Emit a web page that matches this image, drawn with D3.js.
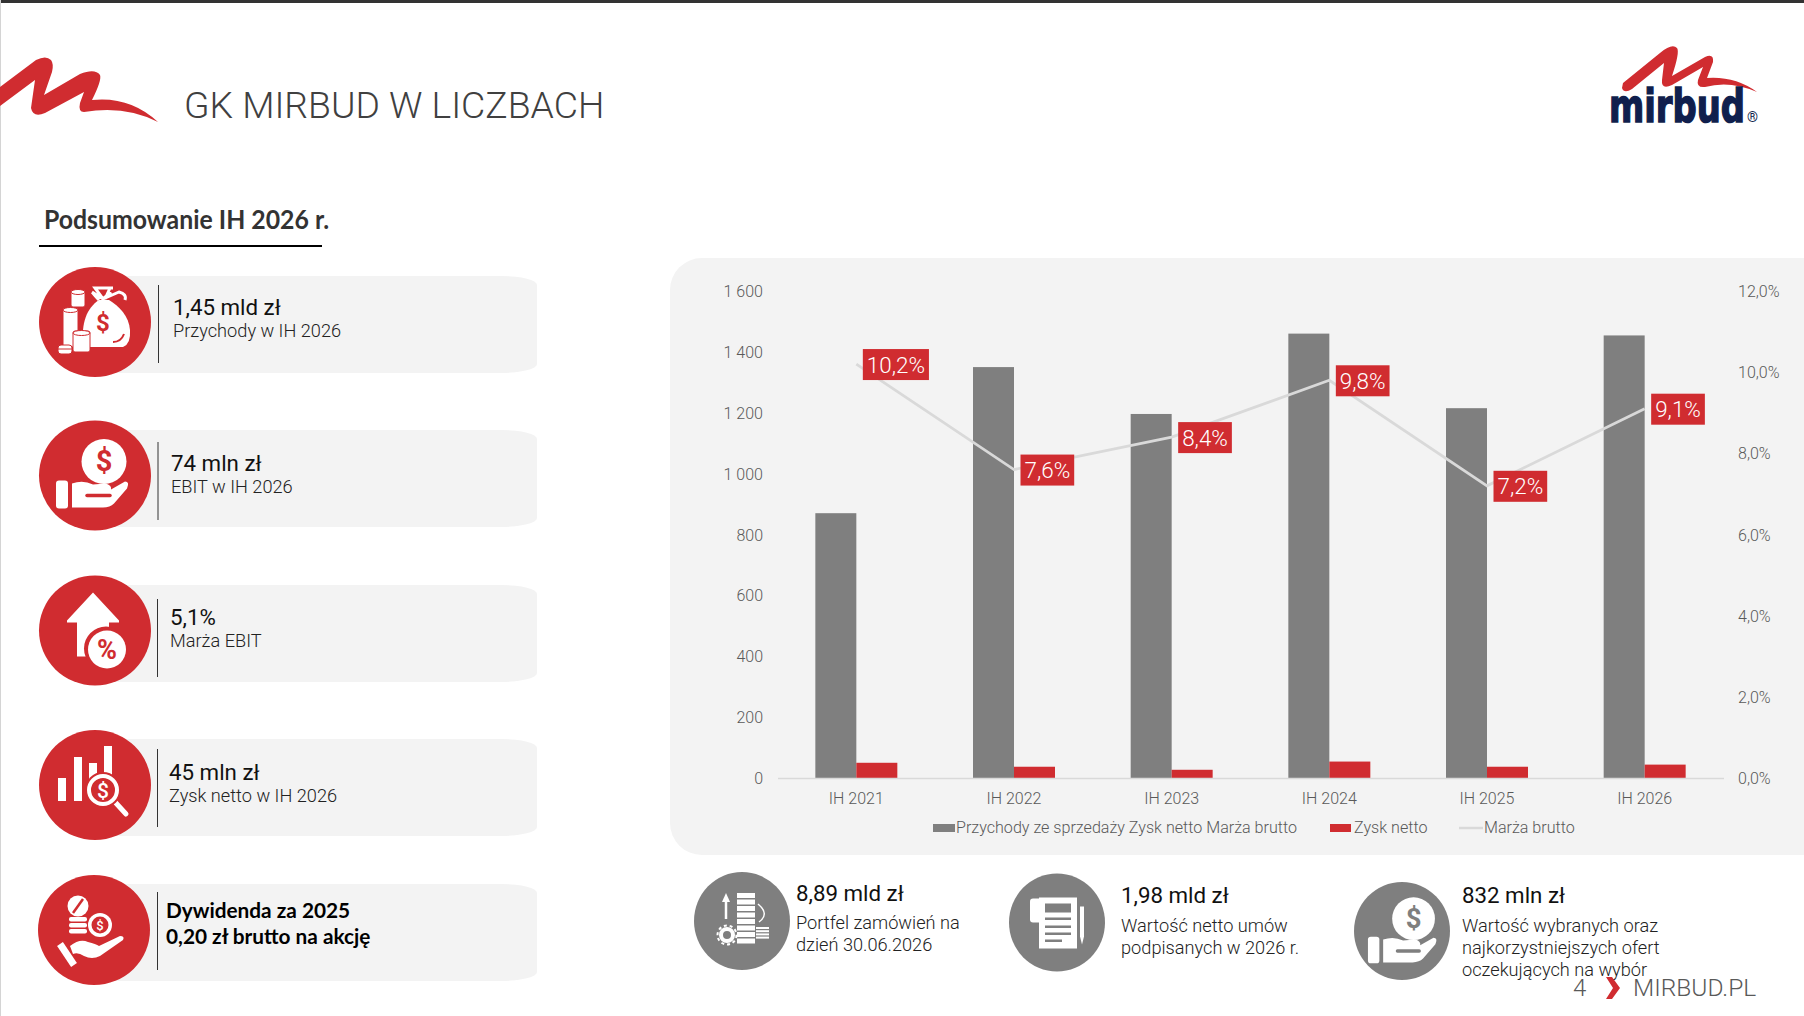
<!DOCTYPE html>
<html lang="pl">
<head>
<meta charset="utf-8">
<title>GK MIRBUD W LICZBACH</title>
<script src="https://cdn.jsdelivr.net/npm/d3@7"></script>
<style>
	html, body { margin: 0; padding: 0; background: #fff; }
	svg { display: block; font-family: Roboto, sans-serif; }
	.light { font-weight: 300; }
</style>
</head>
<body>
<svg id="slide" width="1804" height="1016"></svg>
<script>
(function () {
	'use strict';

	// --- Chart data ---
	var categories   = ['IH 2021', 'IH 2022', 'IH 2023', 'IH 2024', 'IH 2025', 'IH 2026'];
	var revenue      = [870, 1350, 1196, 1460, 1215, 1454];
	var netProfit    = [50, 37, 27, 54, 37, 44];
	var grossMargin  = [10.2, 7.6, 8.4, 9.8, 7.2, 9.1];
	var leftTicks    = [0, 200, 400, 600, 800, 1000, 1200, 1400, 1600];
	var rightTicks   = [0, 2, 4, 6, 8, 10, 12];
	var legendLabels = ['Przychody ze sprzedaży Zysk netto Marża brutto', 'Zysk netto', 'Marża brutto'];

	// --- Slide texts ---
	var kpiValues    = ['1,45 mld zł', '74 mln zł', '5,1%', '45 mln zł'];
	var kpiLabels    = ['Przychody w IH 2026', 'EBIT w IH 2026', 'Marża EBIT', 'Zysk netto w IH 2026'];
	var dividend     = ['Dywidenda za 2025', '0,20 zł brutto na akcję'];
	var bottomValues = ['8,89 mld zł', '1,98 mld zł', '832 mln zł'];
	var bottomLines  = [
		['Portfel zamówień na', 'dzień 30.06.2026'],
		['Wartość netto umów', 'podpisanych w 2026 r.'],
		['Wartość wybranych oraz', 'najkorzystniejszych ofert', 'oczekujących na wybór']
	];

	// --- Colours ---
	var RED   = '#d02c30';
	var GREY  = '#7f7f7f';
	var PANEL = '#f3f3f3';
	var NAVY  = '#101f4d';

	var svg = d3.select('#slide');

	// page frame
	svg.append('rect').attr('width', 1804).attr('height', 3).attr('fill', '#333');
	svg.append('rect').attr('width', 1).attr('height', 1016).attr('fill', '#d4d4d4');

	// --- Header ---
	svg.append('path').attr('fill', RED)
		.attr('d', 'M0,87 L36,60 Q46,55 51,60 Q54,64 52,72 L44,95 L80,74 Q95,68 100,75 Q102,80 92,100 '
			+ 'Q130,96 158,122 Q125,105 84,112 Q78,112 80,103 L84,92 L45,113 Q33,118 31,108 L35,80 L0,106 Z');

	svg.append('text').attr('class', 'light')
		.attr('x', 184).attr('y', 118)
		.attr('font-size', 37.3).attr('fill', '#404040')
		.text('GK MIRBUD W LICZBACH');

	// right logo
	var logo = svg.append('g');
	logo.append('path').attr('fill', RED)
		.attr('d', 'M1623,83 L1660,53 Q1672,43 1677,48 Q1680,52 1672,76 L1705,57 Q1714,53 1713,62 L1707,78 '
			+ 'Q1735,76 1757,92 Q1730,80 1705,87 Q1696,88 1698,80 L1703,67 L1672,85 Q1661,90 1662,80 L1664,63 '
			+ 'L1632,89 Q1624,94 1622,88 Z');
	// wordmark squeezed with a transform so its box stays honest
	logo.append('text')
		.attr('transform', 'translate(1609,122) scale(0.72,1)')
		.attr('font-family', '"DejaVu Sans"').attr('font-weight', 700)
		.attr('font-size', 47).attr('fill', NAVY)
		.attr('stroke', NAVY).attr('stroke-width', 1.6)
		.text('mirbud');
	logo.append('text')
		.attr('x', 1747).attr('y', 122)
		.attr('font-size', 14).attr('fill', NAVY)
		.text('®');

	// --- Section heading ---
	svg.append('text')
		.attr('transform', 'translate(44,229) scale(0.955,1)')
		.attr('font-family', 'Lato').attr('font-weight', 700)
		.attr('font-size', 26).attr('fill', '#333')
		.text('Podsumowanie IH 2026 r.');
	svg.append('rect').attr('x', 39).attr('y', 245).attr('width', 283).attr('height', 2).attr('fill', '#000');

	// --- Left column cards ---
	var CARD_ROWS = [
		{ cy: 322,   cx: 95, cardTop: 276, divTop: 285, divX: 158.5, textX: 173, base: 315, sub: 337 },
		{ cy: 475.5, cx: 95, cardTop: 430, divTop: 442, divX: 158,   textX: 171, base: 471, sub: 493 },
		{ cy: 630.5, cx: 95, cardTop: 585, divTop: 599, divX: 157.5, textX: 170, base: 625, sub: 647 },
		{ cy: 785,   cx: 95, cardTop: 739, divTop: 749, divX: 157.5, textX: 169, base: 780, sub: 802 },
		{ cy: 930,   cx: 94, cardTop: 884, divTop: 892, divX: 157.5, textX: 166, base: 918, sub: 944 }
	];

	function cardPath(top) {
		var x0 = 90, x1 = 537, h = 97, rx = 35, ry = 9;
		return 'M' + x0 + ',' + top + ' H' + (x1 - rx)
			+ ' A' + rx + ',' + ry + ' 0 0 1 ' + x1 + ',' + (top + ry)
			+ ' V' + (top + h - ry)
			+ ' A' + rx + ',' + ry + ' 0 0 1 ' + (x1 - rx) + ',' + (top + h)
			+ ' H' + x0 + ' Z';
	}

	var ICONS = [iconMoneyBag, function (g) { iconHandCoin(g, RED, 1); }, iconArrowPercent, iconBarsLens, iconCoinsHand];

	CARD_ROWS.forEach(function (row, i) {
		svg.append('path').attr('d', cardPath(row.cardTop)).attr('fill', PANEL);
		svg.append('ellipse')
			.attr('cx', row.cx).attr('cy', row.cy)
			.attr('rx', 56).attr('ry', 55)
			.attr('fill', RED);
		svg.append('line')
			.attr('x1', row.divX).attr('x2', row.divX)
			.attr('y1', row.divTop).attr('y2', row.divTop + 78)
			.attr('stroke', '#333').attr('stroke-width', 1);

		var g = svg.append('g').attr('transform', 'translate(' + row.cx + ',' + row.cy + ')');
		ICONS[i](g);

		if (i < kpiValues.length) {
			svg.append('text')
				.attr('x', row.textX).attr('y', row.base)
				.attr('font-size', 22.3).attr('fill', '#111')
				.text(kpiValues[i]);
			svg.append('text').attr('class', 'light')
				.attr('x', row.textX).attr('y', row.sub)
				.attr('font-size', 18.2).attr('fill', '#222')
				.text(kpiLabels[i]);
		} else {
			dividend.forEach(function (line, k) {
				svg.append('text')
					.attr('x', row.textX).attr('y', k === 0 ? row.base : row.sub)
					.attr('font-family', 'Lato').attr('font-weight', 700)
					.attr('font-size', 20.8).attr('fill', '#000')
					.text(line);
			});
		}
	});

	// --- Chart panel ---
	svg.append('path').attr('fill', PANEL)
		.attr('d', 'M1804,258 H702 A32,32 0 0 0 670,290 V823 A32,32 0 0 0 702,855 H1804 Z');

	var PLOT = { left: 777.5, right: 1723.5, top: 291, bottom: 778 };

	var x = d3.scaleBand()
		.domain(categories)
		.range([PLOT.left, PLOT.right])
		.paddingInner(0.48)
		.paddingOuter(0.24);
	var xSeries = d3.scaleBand()
		.domain(['revenue', 'profit'])
		.range([0, x.bandwidth()]);
	var yLeft = d3.scaleLinear().domain([0, 1600]).range([PLOT.bottom, PLOT.top]);
	var yRight = d3.scaleLinear().domain([0, 12]).range([PLOT.bottom, PLOT.top]);

	var plLocale = d3.formatLocale({ decimal: ',', thousands: ' ', grouping: [3], currency: ['', ''] });
	var fmtThousands = plLocale.format(',d');
	var fmtPercent = plLocale.format('.1f');

	function styleTicks(g) {
		g.selectAll('.tick text')
			.attr('class', 'light')
			.attr('font-family', 'Roboto')
			.attr('font-size', 16)
			.attr('fill', '#595959');
	}

	function cleanAxis(g) {
		g.select('.domain').remove();
		g.selectAll('.tick line').remove();
		g.selectAll('.tick text').attr('dy', '0.35em');
		styleTicks(g);
	}

	svg.append('g')
		.attr('transform', 'translate(763,0)')
		.call(d3.axisLeft(yLeft).tickValues(leftTicks).tickSize(0).tickPadding(0).tickFormat(fmtThousands))
		.call(cleanAxis);

	svg.append('g')
		.attr('transform', 'translate(1738,0)')
		.call(d3.axisRight(yRight).tickValues(rightTicks).tickSize(0).tickPadding(0)
			.tickFormat(function (d) { return fmtPercent(d) + '%'; }))
		.call(cleanAxis);

	svg.append('g').selectAll('rect')
		.data(revenue)
		.enter().append('rect')
		.attr('x', function (d, i) { return x(categories[i]) + xSeries('revenue'); })
		.attr('y', function (d) { return yLeft(d); })
		.attr('width', xSeries.bandwidth())
		.attr('height', function (d) { return yLeft(0) - yLeft(d); })
		.attr('fill', GREY);

	svg.append('g').selectAll('rect')
		.data(netProfit)
		.enter().append('rect')
		.attr('x', function (d, i) { return x(categories[i]) + xSeries('profit'); })
		.attr('y', function (d) { return yLeft(d); })
		.attr('width', xSeries.bandwidth())
		.attr('height', function (d) { return yLeft(0) - yLeft(d); })
		.attr('fill', RED);

	svg.append('g')
		.attr('transform', 'translate(0,' + PLOT.bottom + ')')
		.call(d3.axisBottom(x).tickSize(0).tickPadding(15))
		.call(function (g) {
			g.select('.domain').attr('stroke', '#d9d9d9').attr('stroke-width', 1.5);
			styleTicks(g);
		});

	var marginLine = d3.line()
		.x(function (d, i) { return x(categories[i]) + x.bandwidth() / 2; })
		.y(function (d) { return yRight(d); });

	svg.append('path')
		.datum(grossMargin)
		.attr('d', marginLine)
		.attr('fill', 'none')
		.attr('stroke', '#d9d9d9')
		.attr('stroke-width', 2.8);

	// margin labels: red box just right of each point
	grossMargin.forEach(function (d, i) {
		var px = x(categories[i]) + x.bandwidth() / 2;
		var py = yRight(d) + 0.5;
		var g = svg.append('g').attr('transform', 'translate(' + (px + 6.5) + ',' + py + ')');
		var box = g.append('rect').attr('y', -15.5).attr('height', 31).attr('fill', RED);
		var label = g.append('text').attr('class', 'light')
			.attr('x', 4).attr('y', 8)
			.attr('font-size', 22.4).attr('fill', '#fff')
			.text(fmtPercent(d) + '%');
		box.attr('width', label.node().getComputedTextLength() + 8);
	});

	// --- Legend ---
	var legend = svg.append('g').attr('font-size', 16.1).attr('fill', '#595959');
	var LEGEND_X = [956, 1354, 1484];
	var LEGEND_KEY = [{ x: 933, w: 22, h: 8, c: GREY }, { x: 1330, w: 21, h: 8, c: RED }, { x: 1459, w: 24, h: 2.5, c: '#d9d9d9' }];
	legendLabels.forEach(function (label, i) {
		var k = LEGEND_KEY[i];
		legend.append('rect')
			.attr('x', k.x).attr('y', 828 - k.h / 2)
			.attr('width', k.w).attr('height', k.h)
			.attr('fill', k.c);
		legend.append('text').attr('class', 'light')
			.attr('x', LEGEND_X[i]).attr('y', 833)
			.text(label);
	});

	// --- Bottom figures ---
	var BOTTOM_LAYOUT = [
		{ cx: 742,  cy: 921,   x: 796,  base: 901, first: 929, icon: iconOrders },
		{ cx: 1057, cy: 922.5, x: 1121, base: 903, first: 932, icon: iconContract },
		{ cx: 1402, cy: 931,   x: 1462, base: 903, first: 932, icon: function (g) { iconHandCoin(g, GREY, 0.95); } }
	];

	BOTTOM_LAYOUT.forEach(function (b, i) {
		svg.append('ellipse')
			.attr('cx', b.cx).attr('cy', b.cy)
			.attr('rx', 48).attr('ry', 49)
			.attr('fill', GREY);
		b.icon(svg.append('g').attr('transform', 'translate(' + b.cx + ',' + b.cy + ')'));
		svg.append('text')
			.attr('x', b.x).attr('y', b.base)
			.attr('font-size', 22.3).attr('fill', '#111')
			.text(bottomValues[i]);
		bottomLines[i].forEach(function (line, k) {
			svg.append('text')
				.attr('x', b.x).attr('y', b.first + k * 22)
				.attr('font-size', 18.2).attr('fill', '#222')
				.attr('class', 'light')
				.text(line);
		});
	});

	// --- Footer ---
	svg.append('text').attr('class', 'light')
		.attr('x', 1573).attr('y', 996)
		.attr('font-size', 24).attr('fill', '#595959')
		.text('4');
	svg.append('path').attr('fill', RED)
		.attr('d', 'M1606,977 H1612 L1620,988 L1612,999 H1606 L1613,988 Z');
	svg.append('text').attr('class', 'light')
		.attr('x', 1633).attr('y', 996)
		.attr('font-size', 24.5).attr('fill', '#595959')
		.text('MIRBUD.PL');

	// --- Icons (drawn around the centre of their circle) ---
	function glyph(g, cx, cy, size, fill, text, weight) {
		g.append('text')
			.attr('x', cx).attr('y', cy + size * 0.36)
			.attr('text-anchor', 'middle')
			.attr('font-size', size).attr('font-weight', weight || 500)
			.attr('fill', fill)
			.text(text);
	}

	function iconMoneyBag(g) {
		// bag
		g.append('path').attr('fill', '#fff')
			.attr('d', 'M4,-22 C-8,-14 -14,0 -12,25 H28 Q36,22 35,8 C34,-6 24,-16 14,-22 Z');
		g.append('path').attr('fill', 'none').attr('stroke', '#fff').attr('stroke-width', 3)
			.attr('d', 'M-3,-30 L8,-23 L16,-30 M8,-23 L24,-30 Q32,-28 30,-22 M-3,-30 Q2,-24 4,-22 M10,-23 L15,-34 M8,-23 L0,-34 H18');
		g.append('path').attr('fill', 'none').attr('stroke', RED).attr('stroke-width', 2)
			.attr('d', 'M18,20 Q26,20 29,12');
		glyph(g, 8, 0, 24, RED, '$', 700);
		// coins
		[[-24, -32, 14, 17], [-32, -14, 15, 39], [-22, 9, 17, 21]].forEach(function (c) {
			g.append('rect').attr('x', c[0]).attr('y', c[1]).attr('width', c[2]).attr('height', c[3])
				.attr('rx', 2).attr('fill', '#fff').attr('stroke', RED).attr('stroke-width', 1);
			g.append('ellipse').attr('cx', c[0] + c[2] / 2).attr('cy', c[1] + 2).attr('rx', c[2] / 2).attr('ry', 2.5)
				.attr('fill', '#fff').attr('stroke', RED).attr('stroke-width', 1);
		});
		g.append('rect').attr('x', -37).attr('y', 23).attr('width', 14).attr('height', 9).attr('rx', 3)
			.attr('fill', '#fff').attr('stroke', RED).attr('stroke-width', 1);
		g.append('line').attr('x1', -37).attr('x2', -23).attr('y1', 27).attr('y2', 27)
			.attr('stroke', RED).attr('stroke-width', 1);
	}

	function iconHandCoin(g, fill, scale) {
		g = g.append('g').attr('transform', (scale < 1 ? 'translate(3,1) ' : '') + 'scale(' + scale + ')');
		g.append('circle').attr('cx', 9).attr('cy', -14).attr('r', 22.5).attr('fill', '#fff');
		glyph(g, 9, -15, 29, fill, '$', 700);
		g.append('rect').attr('x', -39).attr('y', 5).attr('width', 12).attr('height', 28).attr('rx', 3).attr('fill', '#fff');
		g.append('path').attr('fill', '#fff')
			.attr('d', 'M-23,8 Q-12,4 -2,9 L11,8 Q17,10 16,14 L30,6 Q35,6 32,13 L19,28 Q15,32 8,32 H-23 Z');
		g.append('line').attr('x1', -8).attr('x2', 15).attr('y1', 20).attr('y2', 20)
			.attr('stroke', fill).attr('stroke-width', 3.5).attr('stroke-linecap', 'round');
	}

	function iconArrowPercent(g) {
		g.append('path').attr('fill', '#fff')
			.attr('d', 'M-2,-38 L24,-10 V-8 H14 V26 H-18 V-8 H-28 V-10 Z');
		g.append('circle').attr('cx', 11).attr('cy', 18).attr('r', 22).attr('fill', RED);
		g.append('circle').attr('cx', 12).attr('cy', 19).attr('r', 19).attr('fill', '#fff');
		glyph(g, 12, 19, 27, RED, '%', 700);
	}

	function iconBarsLens(g) {
		[[-37, -7, 8, 23], [-21, -28, 8, 44], [-6, -22, 8, 30], [9, -39, 8, 40]].forEach(function (b) {
			g.append('rect').attr('x', b[0]).attr('y', b[1]).attr('width', b[2]).attr('height', b[3]).attr('fill', '#fff');
		});
		g.append('line').attr('x1', 20).attr('y1', 17).attr('x2', 31).attr('y2', 29)
			.attr('stroke', '#fff').attr('stroke-width', 5).attr('stroke-linecap', 'round');
		g.append('circle').attr('cx', 8).attr('cy', 5).attr('r', 18).attr('fill', RED);
		g.append('circle').attr('cx', 8).attr('cy', 5).attr('r', 14).attr('fill', RED).attr('stroke', '#fff').attr('stroke-width', 4);
		glyph(g, 8, 5, 21, '#fff', '$', 500);
	}

	function iconCoinsHand(g) {
		g.append('circle').attr('cx', -16).attr('cy', -24).attr('r', 10.5).attr('fill', '#fff');
		g.append('line').attr('x1', -21).attr('y1', -17).attr('x2', -11).attr('y2', -31)
			.attr('stroke', RED).attr('stroke-width', 2.5);
		[-13, -7, -1].forEach(function (dy) {
			g.append('rect').attr('x', -25).attr('y', dy).attr('width', 18).attr('height', 4.5).attr('rx', 2).attr('fill', '#fff');
		});
		g.append('circle').attr('cx', 6).attr('cy', -5).attr('r', 12).attr('fill', '#fff');
		g.append('circle').attr('cx', 6).attr('cy', -5).attr('r', 8.5).attr('fill', RED);
		glyph(g, 6, -5, 13, '#fff', '$', 500);
		g.append('line').attr('x1', -34).attr('y1', 14).attr('x2', -20).attr('y2', 35)
			.attr('stroke', '#fff').attr('stroke-width', 7);
		g.append('path').attr('fill', '#fff')
			.attr('d', 'M-24,16 Q-14,8 -6,12 Q2,14 5,16 L26,6 Q31,6 29,10 L6,26 Q-2,30 -10,26 Q-16,22 -21,24 Z');
	}

	function iconOrders(g) {
		// stack of coins
		g.append('g').selectAll('rect')
			.data(d3.range(8))
			.enter().append('rect')
			.attr('x', -5).attr('y', function (d) { return -28 + d * 6.5; })
			.attr('width', 18).attr('height', 5)
			.attr('fill', '#fff');
		// up arrow
		g.append('line').attr('x1', -16).attr('x2', -16).attr('y1', -20).attr('y2', -2)
			.attr('stroke', '#fff').attr('stroke-width', 2.5);
		g.append('path').attr('d', 'M-16,-28 L-12,-19 H-20 Z').attr('fill', '#fff');
		// curved arrow
		g.append('path').attr('fill', 'none').attr('stroke', '#fff').attr('stroke-width', 1.5)
			.attr('d', 'M16,-17 Q28,-7 17,1');
		// small stack
		g.append('g').selectAll('rect')
			.data(d3.range(4))
			.enter().append('rect')
			.attr('x', 14).attr('y', function (d) { return 6 + d * 3.2; })
			.attr('width', 13).attr('height', 2)
			.attr('fill', '#fff');
		// gear
		g.append('circle').attr('cx', -15).attr('cy', 14).attr('r', 6).attr('fill', 'none')
			.attr('stroke', '#fff').attr('stroke-width', 4);
		g.append('circle').attr('cx', -15).attr('cy', 14).attr('r', 9.5).attr('fill', 'none')
			.attr('stroke', '#fff').attr('stroke-width', 2).attr('stroke-dasharray', '3 2.9');
	}

	function iconContract(g) {
		g.append('rect').attr('x', -27).attr('y', -24).attr('width', 12).attr('height', 24).attr('rx', 3).attr('fill', '#fff');
		g.append('rect').attr('x', -18).attr('y', -25).attr('width', 38).attr('height', 51).attr('fill', '#fff');
		g.append('rect').attr('x', -12).attr('y', -19).attr('width', 26).attr('height', 9).attr('fill', GREY);
		[-5, 3, 10, 17].forEach(function (dy, k) {
			g.append('rect').attr('x', -12).attr('y', dy).attr('width', k === 3 ? 17 : 26).attr('height', 2.5).attr('fill', GREY);
		});
		g.append('path').attr('fill', '#fff').attr('d', 'M23,-16 H27 V14 L25,22 L23,14 Z');
	}
})();
</script>
</body>
</html>
